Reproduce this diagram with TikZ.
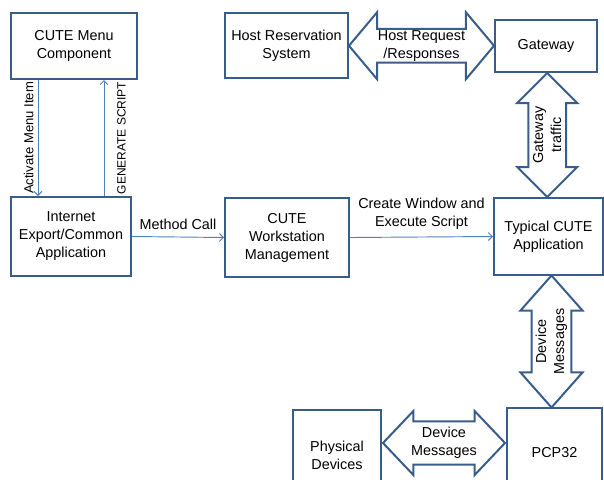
\documentclass[tikz,border=0pt]{standalone}
\usepackage{fontspec}
\setmainfont{Liberation Sans}
\usetikzlibrary{arrows.meta,shapes.arrows,calc}
\definecolor{boxline}{RGB}{56,93,138}
\definecolor{thinline}{RGB}{79,129,189}
\def\pxu{0.75pt}
\tikzset{blk/.style={draw=boxline,line width=1.5pt,align=center,inner sep=0pt,font=\fontsize{10.8}{13.5}\selectfont},boxsize/.style 2 args={minimum width=#1*\pxu,minimum height=#2*\pxu},flow/.style={draw=thinline,line width=0.7pt,-{Straight Barb[length=3pt,width=6pt]}},lbl/.style={font=\fontsize{10.8}{13.5}\selectfont,align=center,inner sep=1pt},dbl/.style={double arrow,draw=boxline,line width=1.5pt,fill=white,align=center,inner sep=0pt,font=\fontsize{10.8}{13.5}\selectfont}}

\begin{document}
\begin{tikzpicture}[x=0.75pt,y=-0.75pt]
\path[use as bounding box,clip] (0,0) rectangle (604,479);
\node[blk,boxsize={126}{66}] (menu) at (74,46) {CUTE Menu\\Component};
\node[blk,boxsize={120}{79}] (inet) at (71,236.5) {Internet\\Export/Common\\Application};
\node[blk,boxsize={124}{79}] (wsm) at (287,237.5) {CUTE\\Workstation\\Management};
\node[blk,boxsize={123}{65}] (host) at (286.5,45.5) {Host Reservation\\System};
\node[blk,boxsize={102}{52}] (gw) at (546,46) {Gateway};
\node[blk,boxsize={109}{77}] (app) at (548.5,236.5) {Typical CUTE\\Application};
\node[blk,boxsize={95}{90}] (pcp) at (554.5,453) {PCP32};
\node[blk,boxsize={88}{90}] (phys) at (337,455) {Physical\\Devices};
\draw[flow] ([xshift=28*\pxu]menu.south west) -- node[lbl,font=\fontsize{9.8}{12}\selectfont,xshift=-2pt,rotate=90,anchor=south]{Activate Menu Item} ([xshift=28*\pxu]inet.north west);
\draw[flow] ([xshift=94*\pxu]inet.north west) -- node[lbl,font=\fontsize{9}{11}\selectfont,xshift=8.5pt,rotate=90,anchor=north]{GENERATE SCRIPT} ([xshift=94*\pxu]menu.south west);
\draw[flow] (inet.east) -- node[lbl,above=4pt]{Method Call} (wsm.west);
\draw[flow] (wsm.east) -- node[lbl,above=4pt]{Create Window and\\Execute Script} (app.west);
\node[dbl,minimum height=145*\pxu,minimum width=67*\pxu,double arrow head extend=16*\pxu,double arrow tip angle=100] (hostarr) at ($(host.east)!.5!(gw.west)$) {Host Request\\/Responses};
\node[dbl,rotate=90,minimum height=124*\pxu,minimum width=60*\pxu,double arrow head extend=9*\pxu,double arrow tip angle=90] (gwarr) at ($(gw.south)!.5!(app.north)$) {Gateway\\traffic};
\node[dbl,rotate=90,minimum height=132*\pxu,minimum width=62*\pxu,double arrow head extend=9.5*\pxu,double arrow tip angle=83] (devarr) at ($(app.south)!.5!(pcp.north)$) {Device\\Messages};
\node[dbl,yshift=11*\pxu,minimum height=122*\pxu,minimum width=64*\pxu,double arrow head extend=8*\pxu,double arrow tip angle=93] (physarr) at ($(phys.east)!.5!(pcp.west)$) {Device\\Messages};
\end{tikzpicture}
\end{document}
